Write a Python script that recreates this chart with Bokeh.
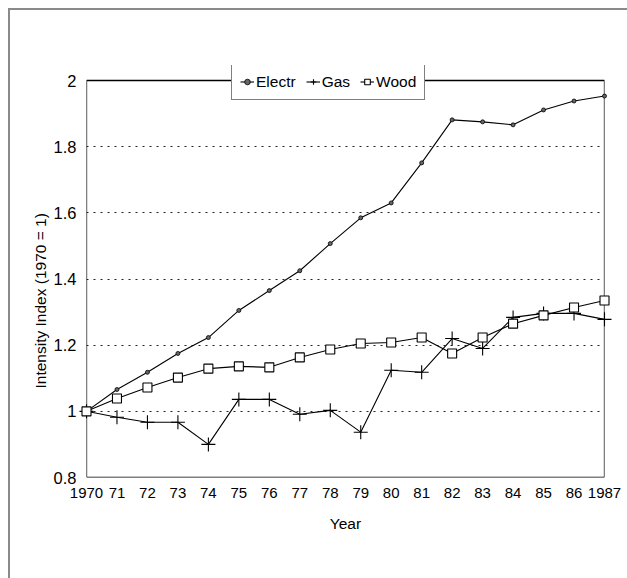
from bokeh.plotting import figure
from bokeh.models import FixedTicker, Legend, LegendItem, Range1d, Title
from bokeh.embed import file_html
from bokeh.resources import INLINE

years = list(range(1970, 1988))
electr = [1.0, 1.066, 1.118, 1.175, 1.223, 1.305, 1.365, 1.425, 1.507, 1.585,
          1.63, 1.751, 1.881, 1.875, 1.866, 1.911, 1.938, 1.953]
gas = [1.0, 0.982, 0.967, 0.967, 0.90, 1.036, 1.036, 0.991, 1.003, 0.937,
       1.124, 1.118, 1.22, 1.19, 1.284, 1.296, 1.296, 1.278]
wood = [1.0, 1.039, 1.072, 1.102, 1.129, 1.136, 1.133, 1.163, 1.187, 1.205,
        1.208, 1.223, 1.175, 1.223, 1.265, 1.29, 1.314, 1.335]
x_labels = ["1970", "71", "72", "73", "74", "75", "76", "77", "78", "79",
            "80", "81", "82", "83", "84", "85", "86", "1987"]
y_ticks = [0.8, 1.0, 1.2, 1.4, 1.6, 1.8, 2.0]
y_labels = ["0.8", "1", "1.2", "1.4", "1.6", "1.8", "2"]

FONT = "Liberation Sans"

# layout (pixels)
W, H = 627, 578
LEFT, RIGHT, TOP, BOTTOM = 86, 23, 65, 101
PLOT_H = H - TOP - BOTTOM            # frame height incl. room for legend
BOX_H = 397                          # height of the 0.8..2.0 box
y0, y1 = y_ticks[0], y_ticks[-1]
y_top = y0 + (y1 - y0) * PLOT_H / BOX_H
x0, x1 = years[0], years[-1]

p = figure(width=W, height=H, output_backend="svg", toolbar_location=None,
           x_range=Range1d(x0, x1), y_range=Range1d(y0, y_top),
           min_border_left=LEFT, min_border_right=RIGHT, min_border_top=TOP,
           min_border_bottom=BOTTOM)
p.border_fill_color = None
p.background_fill_color = "white"
p.outline_line_color = None
p.styles = {
    "background-image": "linear-gradient(#8a8a8a,#8a8a8a), linear-gradient(#8a8a8a,#8a8a8a)",
    "background-size": "2px 100%, 100% 2px",
    "background-position": "8px 8px, 8px 8px",
    "background-repeat": "no-repeat",
}

# axes
p.xaxis.ticker = FixedTicker(ticks=years)
p.xaxis.major_label_overrides = {y: l for y, l in zip(years, x_labels)}
p.yaxis.ticker = FixedTicker(ticks=y_ticks)
p.yaxis.major_label_overrides = {t: l for t, l in zip(y_ticks, y_labels)}
for ax in (p.xaxis, p.yaxis):
    ax.major_tick_line_color = None
    ax.minor_tick_line_color = None
    ax.axis_line_color = None
    ax.major_label_text_font = FONT
    ax.major_label_text_color = "black"
    ax.axis_label_text_font = FONT
    ax.axis_label_text_font_style = "normal"
    ax.axis_label_text_color = "black"
p.xaxis.major_label_text_font_size = "15px"
p.yaxis.major_label_text_font_size = "16.5px"
p.xaxis.major_label_standoff = 4
p.yaxis.major_label_standoff = 4
p.xaxis.axis_label = "Year"
p.xaxis.axis_label_text_font_size = "15.5px"
p.xaxis.axis_label_standoff = 14

# y-axis title, aligned to the 0.8..2.0 box rather than the whole frame
ytitle = Title(text="Intensity Index (1970 = 1)", align="left", offset=89,
               text_font=FONT, text_font_size="15.5px",
               text_font_style="normal", text_color="black", standoff=3)
p.add_layout(ytitle, "left")

# grid
p.xgrid.grid_line_color = None
p.ygrid.ticker = FixedTicker(ticks=y_ticks[1:-1])
p.ygrid.grid_line_color = "#222222"
p.ygrid.grid_line_dash = "2 5"
p.ygrid.grid_line_width = 1

# plot box (0.8 .. 2.0, 1970 .. 1987)
p.line([x0, x0, x1, x1, x0], [y0, y1, y1, y0, y0], line_color="black",
       line_width=1.3)

# series
r_el = p.line(years, electr, line_color="black", line_width=1.1)
m_el = p.scatter(years, electr, marker="circle", size=4, line_color="black",
                 fill_color="#666666", line_width=0.8, level="overlay")
r_gas = p.line(years, gas, line_color="black", line_width=1.1)
m_gas = p.scatter(years, gas, marker="cross", size=14, line_color="black",
                  line_width=1.1, level="overlay")
r_wd = p.line(years, wood, line_color="black", line_width=1.1)
m_wd = p.scatter(years, wood, marker="square", size=9, line_color="black",
                 fill_color="white", line_width=1.1, level="overlay")

legend = Legend(items=[
    LegendItem(label="Electr", renderers=[r_el, m_el]),
    LegendItem(label="Gas", renderers=[r_gas, m_gas]),
    LegendItem(label="Wood", renderers=[r_wd, m_wd]),
], orientation="horizontal", location=(145, PLOT_H - 35))
legend.label_text_font = FONT
legend.label_text_font_size = "15.5px"
legend.label_text_color = "black"
legend.glyph_width = 14
legend.glyph_height = 19
legend.label_height = 18
legend.label_standoff = 2
legend.spacing = 10
legend.padding = 8
legend.margin = 0
legend.border_line_color = "black"
legend.border_line_width = 1.2
legend.background_fill_color = "white"
legend.background_fill_alpha = 1.0
p.add_layout(legend, "center")

open("out.html", "w").write(file_html(p, INLINE))
